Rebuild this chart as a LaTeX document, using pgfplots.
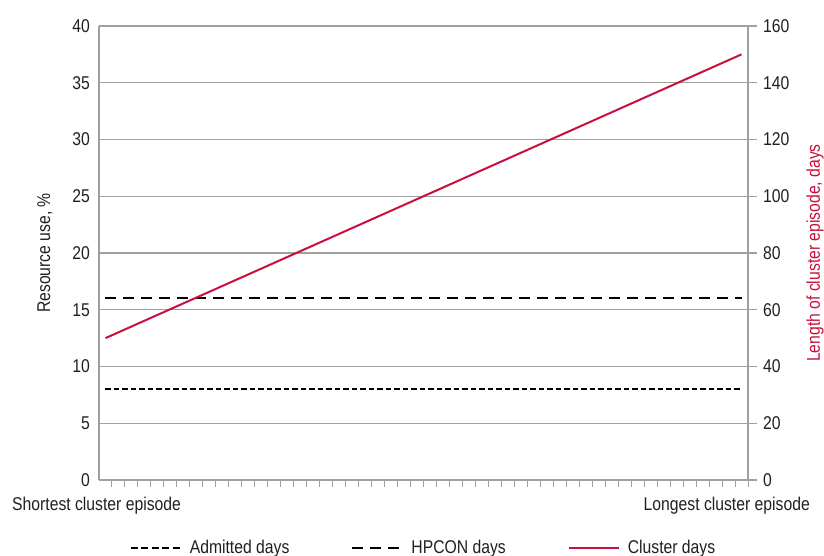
\documentclass[border=0pt]{standalone}
\usepackage{fontspec}
\setmainfont{Liberation Sans}[FakeStretch=0.85]
\usepackage{pgfplots}
\pgfplotsset{compat=1.18}
\definecolor{gridgray}{RGB}{160,160,160}
\definecolor{clred}{RGB}{200,16,62}
\definecolor{txt}{RGB}{35,31,32}
\begin{document}
\fontsize{18.5pt}{22pt}\selectfont
\begin{tikzpicture}[x=1pt,y=1pt]
\useasboundingbox (-99,-76) rectangle (725,480);
\pgfplotsset{
  every axis/.append style={
    at={(0pt,0pt)}, anchor=south west,
    scale only axis, width=649pt, height=454pt,
    xmin=0.5, xmax=50.5,
    font=\fontsize{18.5pt}{22pt}\selectfont,
    /pgf/number format/assume math mode=true,
    tick label style={text=txt},
    axis line style={draw=gridgray, line width=1.3pt},
  }
}
\begin{axis}[
  ymin=0, ymax=40,
  axis x line*=bottom, axis y line*=left,
  ytick={0,5,...,40},
  ymajorgrids, grid style={draw=gridgray, line width=1.1pt},
  major y tick style={draw=none},
  xtick={1.5,2.5,...,50.5},
  xticklabels={},
  x tick style={draw=gridgray, line width=1pt},
  tick align=outside,
  major tick length=7pt,
  yticklabel style={inner sep=0pt, xshift=-2pt},
]
\addplot[no marks, line width=2pt, draw=black, dash pattern=on 5.5pt off 3pt] coordinates {(1,8) (50,8)};
\addplot[no marks, line width=2pt, draw=black, dash pattern=on 11pt off 7pt] coordinates {(1,16) (50,16)};
\end{axis}
\begin{axis}[
  ymin=0, ymax=160,
  axis x line=none, axis y line*=right,
  ytick={0,20,...,160},
  y tick style={draw=gridgray, line width=1.1pt},
  tick align=outside,
  major tick length=9pt,
  yticklabel style={inner sep=0pt, xshift=6pt},
  legend columns=3,
  legend style={draw=none, fill=none, at={(axis description cs:0.5,-0.1498)}, anchor=center,
    font=\fontsize{18.5pt}{22pt}\selectfont, text=txt,
    /tikz/every even column/.append style={column sep=60pt},
    inner sep=0pt},
  legend image code/.code={\draw[#1] (0pt,0pt) -- (50pt,0pt); \path (56pt,0pt);},
]
\addlegendimage{line width=2pt, draw=black, dash pattern=on 7pt off 3.5pt}
\addlegendentry{Admitted days}
\addlegendimage{line width=2pt, draw=black, dash pattern=on 11pt off 7pt}
\addlegendentry{HPCON days}
\addplot[no marks, line width=2pt, draw=clred] coordinates {(1,50) (50,150)};
\addlegendentry{Cluster days}
\end{axis}
\node[anchor=west, text=txt, inner sep=0pt] at (-87,-26) {Shortest cluster episode};
\node[anchor=east, text=txt, inner sep=0pt] at (711,-26) {Longest cluster episode};
\node[rotate=90, text=txt, inner sep=0pt] at (-54,227) {Resource use, \%};
\node[rotate=90, text=clred, inner sep=0pt] at (716,227) {Length of cluster episode, days};
\end{tikzpicture}
\end{document}
